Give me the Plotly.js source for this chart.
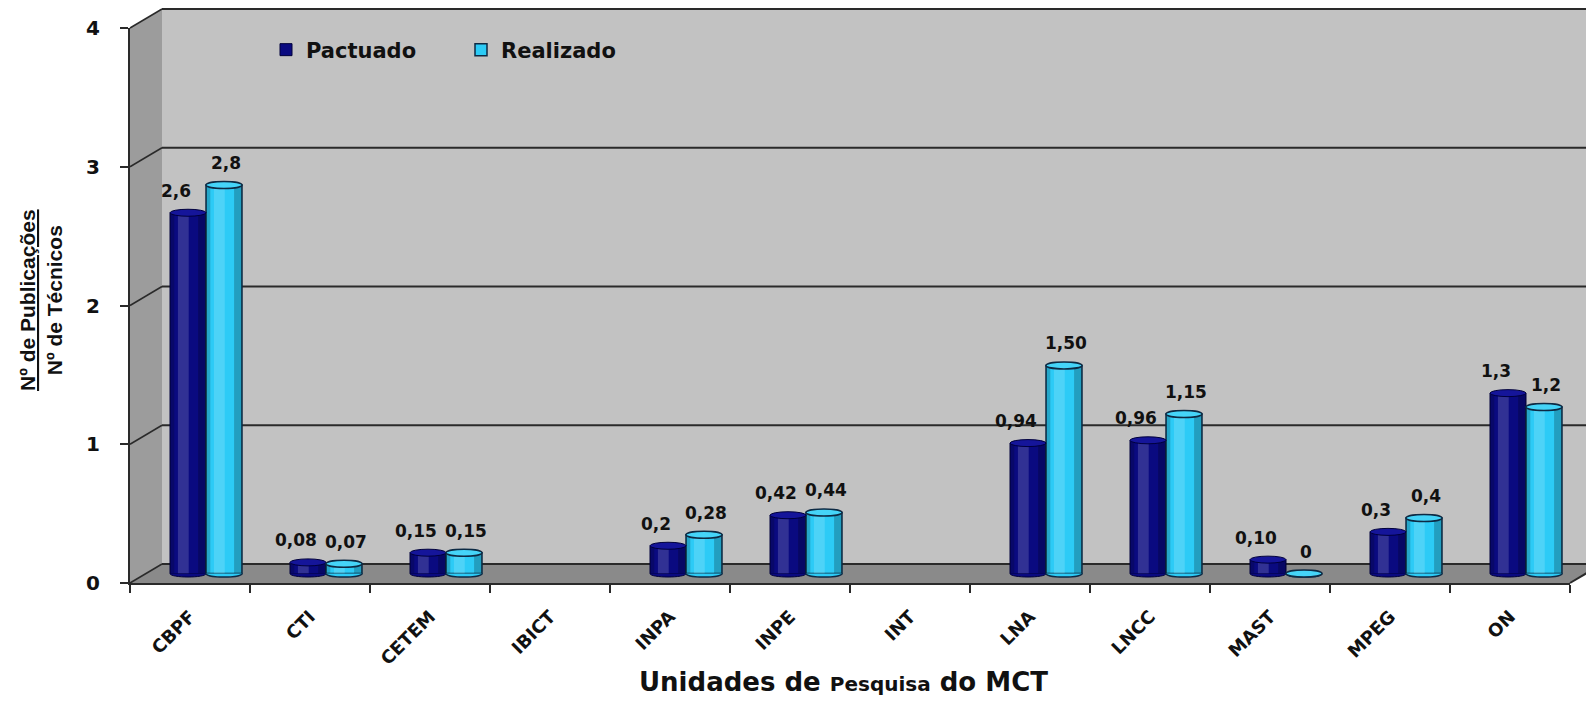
<!DOCTYPE html>
<html>
<head>
<meta charset="utf-8">
<script src="https://cdn.plot.ly/plotly-3.0.1.min.js"></script>
<style>html,body{margin:0;padding:0;background:#fff;}#chart{width:1586px;height:702px;}</style>
</head>
<body>
<div id="chart"></div>
<script>
// ---- data ----
const categories = ['CBPF','CTI','CETEM','IBICT','INPA','INPE','INT','LNA','LNCC','MAST','MPEG','ON'];
const pactuado = [2.6, 0.08, 0.15, null, 0.2, 0.42, null, 0.94, 0.96, 0.10, 0.3, 1.3];
const realizado = [2.8, 0.07, 0.15, null, 0.28, 0.44, null, 1.50, 1.15, 0, 0.4, 1.2];
const pactuadoLabels = ['2,6','0,08','0,15','','0,2','0,42','','0,94','0,96','0,10','0,3','1,3'];
const realizadoLabels = ['2,8','0,07','0,15','','0,28','0,44','','1,50','1,15','0','0,4','1,2'];
const yTicks = [0, 1, 2, 3, 4];

// ---- geometry / style ----
const W = 1586, H = 702;
const M = {l: 130, r: 16, t: 28, b: 119};
const PL = M.l, PR = W - M.r, PT = M.t, PB = H - M.b;
const YMAX = 4;
const pxPerUnit = (PB - PT) / YMAX;
const pxPerCat = (PR - PL) / categories.length;
const DX = 32, DY = 19;           // depth of the 3D box (back wall offset)
const midDX = DX / 2, midDY = DY / 2;
const xp = px => (px - PL) / (PR - PL);
const yp = py => (PB - py) / (PB - PT);
const frontY = v => PB - v * pxPerUnit;

const darkLine = '#2a2a2a';
const shapes = [];
// back wall
shapes.push({type:'rect', xref:'paper', yref:'paper', layer:'below',
  x0: xp(PL + DX), x1: xp(W + 40), y0: yp(PB - DY), y1: yp(frontY(YMAX) - DY),
  fillcolor:'#c2c2c2', line:{width:0}});
// side wall
shapes.push({type:'path', xref:'paper', yref:'paper', layer:'below',
  path:`M${xp(PL)},${yp(PB)} L${xp(PL+DX)},${yp(PB-DY)} L${xp(PL+DX)},${yp(frontY(YMAX)-DY)} L${xp(PL)},${yp(frontY(YMAX))} Z`,
  fillcolor:'#9c9c9c', line:{width:0}});
// floor
shapes.push({type:'path', xref:'paper', yref:'paper', layer:'below',
  path:`M${xp(PL)},${yp(PB)} L${xp(PR)},${yp(PB)} L${xp(PR+DX)},${yp(PB-DY)} L${xp(PL+DX)},${yp(PB-DY)} Z`,
  fillcolor:'#8a8a8a', line:{width:0}});
// gridlines on back wall + side wall
yTicks.forEach(v => {
  const fy = frontY(v);
  shapes.push({type:'line', xref:'paper', yref:'paper', layer:'below',
    x0: xp(PL + DX), x1: xp(W + 40), y0: yp(fy - DY), y1: yp(fy - DY),
    line:{color: darkLine, width: 2}});
  shapes.push({type:'line', xref:'paper', yref:'paper', layer:'below',
    x0: xp(PL), x1: xp(PL + DX), y0: yp(fy), y1: yp(fy - DY),
    line:{color: darkLine, width: 1.5}});
});
// right edge of floor
shapes.push({type:'line', xref:'paper', yref:'paper', layer:'below',
  x0: xp(PR), x1: xp(PR + DX), y0: yp(PB), y1: yp(PB - DY),
  line:{color: darkLine, width: 2}});

// ---- bars (cylinders) ----
const xIdx = categories.map((c, i) => i);
const barW = 0.3;
const series = [
  {name:'Pactuado', vals:pactuado, labels:pactuadoLabels, off:-barW/2, color:'#0a0a80', top:'#15159a', edge:'#00003c', lw:1, lblShift:-12},
  {name:'Realizado', vals:realizado, labels:realizadoLabels, off:barW/2, color:'#2ccbf6', top:'#45d4f8', edge:'#0d2a44', lw:1.5, lblShift:2}
];
const capH = 3.5 / pxPerUnit;
const annotations = [];
series.forEach(s => {
  s.vals.forEach((v, i) => {
    if (v === null) return;
    const c = i + s.off, x0 = c - barW/2, x1 = c + barW/2;
    if (v > 0) {
      shapes.push({type:'rect', xref:'x', yref:'y', layer:'above', x0:x0, x1:x0 + 0.12*barW, y0:0, y1:v,
        fillcolor:'rgba(0,0,0,0.18)', line:{width:0}});
      shapes.push({type:'rect', xref:'x', yref:'y', layer:'above', x0:x1 - 0.22*barW, x1:x1, y0:0, y1:v,
        fillcolor:'rgba(0,0,0,0.22)', line:{width:0}});
      shapes.push({type:'rect', xref:'x', yref:'y', layer:'above', x0:c - 0.28*barW, x1:c + 0.02*barW, y0:0, y1:v,
        fillcolor:'rgba(255,255,255,0.16)', line:{width:0}});
    }
    // rounded bottom
    const k = capH * 4 / 3;
    shapes.push({type:'path', xref:'x', yref:'y', layer:'above',
      path:`M${x0},0 C${x0},${-k} ${x1},${-k} ${x1},0`,
      fillcolor:s.color, line:{color:s.edge, width:s.lw}});
    // top cap
    shapes.push({type:'circle', xref:'x', yref:'y', layer:'above',
      x0:x0, x1:x1, y0:v - capH, y1:v + capH,
      fillcolor:s.top, line:{color:s.edge, width:s.lw}});
    annotations.push({xref:'x', yref:'y', x:c, y:v, yshift:22, xshift:s.lblShift,
      text:s.labels[i], showarrow:false,
      font:{family:'DejaVu Sans', size:17, color:'#111', weight:'bold'}});
  });
});

// axis titles
annotations.push({xref:'paper', yref:'paper', x:xp(843), y:yp(682), xanchor:'center', yanchor:'middle',
  showarrow:false,
  text:'Unidades de <span style="font-size:20px">Pesquisa</span> do MCT',
  font:{family:'DejaVu Sans', size:26, color:'#111', weight:'bold'}});
annotations.push({xref:'paper', yref:'paper', x:xp(41), y:yp(300), xanchor:'center', yanchor:'middle',
  showarrow:false, textangle:-90,
  text:'<u>Nº de Publicações</u><br>Nº de Técnicos',
  font:{family:'Liberation Sans', size:21, color:'#111', weight:'bold'}});

const traces = series.map(s => ({
  type:'bar', name:s.name, x:xIdx, y:s.vals, xaxis:'x', yaxis:'y',
  marker:{color:s.color, line:{color:s.edge, width:s.lw}},
  hoverinfo:'x+y'
}));
// invisible trace holding the front category axis
traces.push({type:'scatter', mode:'markers', x:categories, y:categories.map(() => 0),
  xaxis:'x2', yaxis:'y2', marker:{opacity:0}, showlegend:false, hoverinfo:'skip'});

const layout = {
  width:W, height:H, margin:M,
  paper_bgcolor:'#ffffff', plot_bgcolor:'rgba(0,0,0,0)',
  font:{family:'DejaVu Sans', color:'#111'},
  barmode:'group', bargap:0.4, bargroupgap:0,
  showlegend:true,
  legend:{orientation:'h', x:xp(266), y:yp(50), xanchor:'left', yanchor:'middle',
    bgcolor:'rgba(0,0,0,0)', font:{family:'DejaVu Sans', size:21, color:'#111', weight:'bold'},
    entrywidth:150, itemwidth:30},
  xaxis:{type:'linear', visible:false, range:[-0.5 - midDX/pxPerCat, categories.length - 0.5 - midDX/pxPerCat], fixedrange:true},
  yaxis:{type:'linear', visible:false, range:[-midDY/pxPerUnit, YMAX - midDY/pxPerUnit], fixedrange:true},
  xaxis2:{type:'category', overlaying:'x', anchor:'y2', categoryarray:categories, categoryorder:'array',
    range:[-0.5, categories.length - 0.5], tickson:'boundaries', ticks:'outside', ticklen:8, tickwidth:2,
    tickcolor:darkLine, showline:true, linecolor:darkLine, linewidth:2, showgrid:false, zeroline:false,
    tickangle:-45, ticklabelstandoff:14, automargin:false,
    tickfont:{family:'DejaVu Sans', size:18, color:'#111', weight:'bold'}},
  yaxis2:{overlaying:'y', anchor:'x2', side:'left', range:[0, YMAX], tickvals:yTicks, ticktext:yTicks.map(String),
    ticks:'outside', ticklen:8, tickwidth:2, tickcolor:darkLine, showline:true, linecolor:darkLine, linewidth:2,
    showgrid:false, zeroline:false, ticklabelstandoff:16, automargin:false,
    tickfont:{family:'DejaVu Sans', size:20, color:'#111', weight:'bold'}},
  shapes:shapes,
  annotations:annotations
};
Plotly.newPlot('chart', traces, layout, {displayModeBar:false, staticPlot:true});
</script>
</body>
</html>
